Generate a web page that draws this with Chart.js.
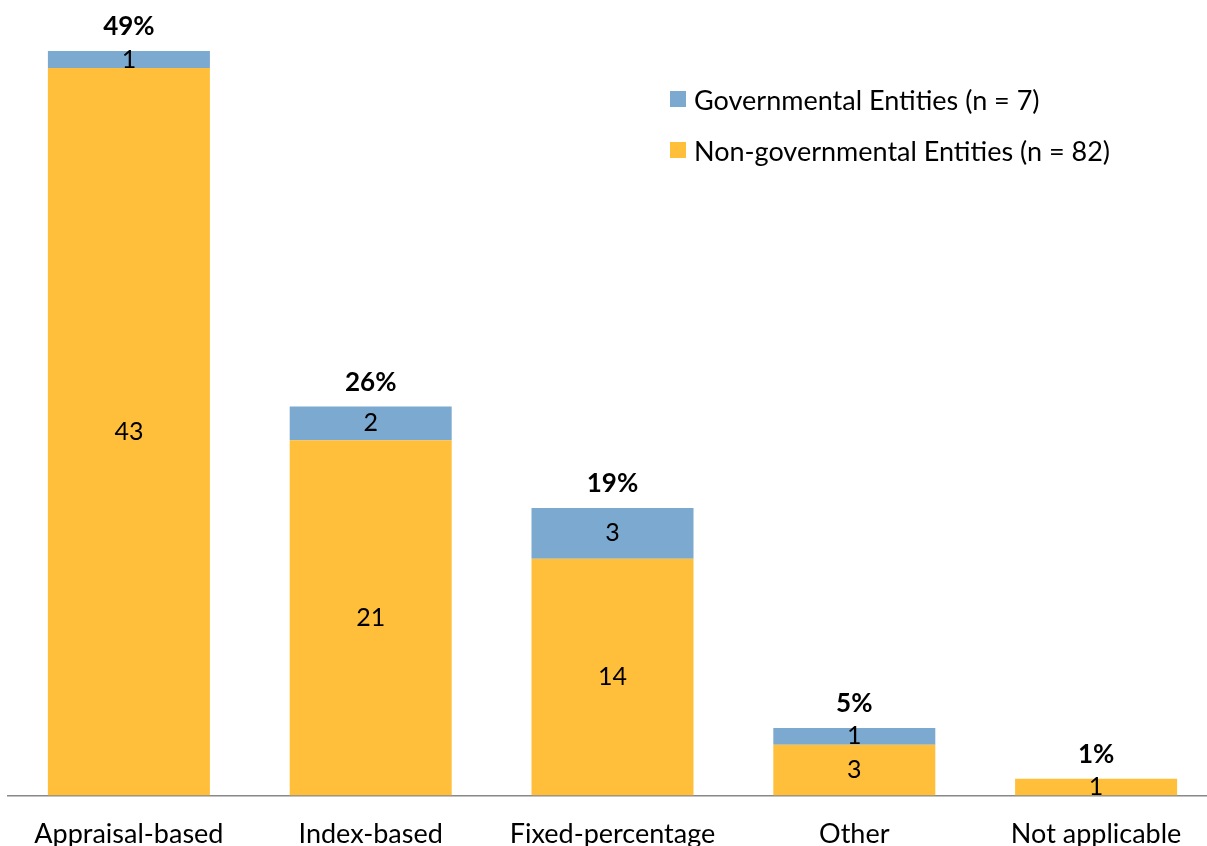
<!DOCTYPE html>
<html>
<head>
<meta charset="utf-8">
<script src="https://cdn.jsdelivr.net/npm/chart.js@4"></script>
<style>
  html, body { margin: 0; padding: 0; background: #fff; overflow: hidden; }
  #wrap { position: relative; width: 1217px; height: 846px; overflow: hidden; }
  #legend { position: absolute; left: 670px; top: 83px; font-family: Lato, "Open Sans", sans-serif; font-size: 27px; color: #000; }
  .item { display: flex; align-items: center; height: 32px; margin-bottom: 19px; }
  .box { width: 16px; height: 16px; margin-right: 8px; }
</style>
</head>
<body>
<div id="wrap">
  <canvas id="chart"></canvas>
  <div id="legend"></div>
</div>
<script>
// Данные диаграммы
const categories = ['Appraisal-based', 'Index-based', 'Fixed-percentage', 'Other', 'Not applicable'];
const nonGovValues = [43, 21, 14, 3, 1];
const govValues = [1, 2, 3, 1, 0];
const percentLabels = ['49%', '26%', '19%', '5%', '1%'];
const seriesNames = ['Non-governmental Entities (n = 82)', 'Governmental Entities (n = 7)'];

const GOLD = '#FFBF3A';
const BLUE = '#7BA9D0';
const FONT = 'Lato, "Open Sans", sans-serif';

// Подписи значений внутри сегментов и процентов над столбцами
const labelPlugin = {
  id: 'barLabels',
  afterDatasetsDraw(chart) {
    const ctx = chart.ctx;
    ctx.save();
    ctx.textAlign = 'center';
    ctx.textBaseline = 'middle';
    ctx.fillStyle = '#000';
    ctx.font = '25px ' + FONT;
    const tops = [];
    chart.data.datasets.forEach((ds, di) => {
      const meta = chart.getDatasetMeta(di);
      meta.data.forEach((bar, i) => {
        const v = ds.data[i];
        if (v > 0) {
          ctx.fillText(String(v), bar.x, (bar.y + bar.base) / 2);
          tops[i] = tops[i] === undefined ? bar.y : Math.min(tops[i], bar.y);
        }
      });
    });
    ctx.font = 'bold 26px ' + FONT;
    const meta0 = chart.getDatasetMeta(0);
    percentLabels.forEach((p, i) => {
      ctx.fillText(p, meta0.data[i].x, tops[i] - 24);
    });
    ctx.restore();
  }
};

const canvas = document.getElementById('chart');
canvas.width = 1217;
canvas.height = 872;

new Chart(canvas.getContext('2d'), {
  type: 'bar',
  data: {
    labels: categories,
    datasets: [
      { label: seriesNames[0], data: nonGovValues, backgroundColor: GOLD, borderWidth: 0 },
      { label: seriesNames[1], data: govValues, backgroundColor: BLUE, borderWidth: 0 }
    ]
  },
  options: {
    responsive: false,
    animation: false,
    layout: { padding: { top: 51, left: 8, right: 0, bottom: 0 } },
    plugins: { legend: { display: false }, tooltip: { enabled: false } },
    datasets: { bar: { categoryPercentage: 1, barPercentage: 0.67 } },
    scales: {
      x: {
        stacked: true,
        grid: { display: false, drawTicks: false },
        border: { display: true, color: '#888', width: 1.5 },
        ticks: { color: '#000', font: { family: FONT, size: 27 }, padding: 22, maxRotation: 0 }
      },
      y: {
        stacked: true,
        display: false,
        min: 0,
        max: 44
      }
    }
  },
  plugins: [labelPlugin]
});

// Легенда
const legend = document.getElementById('legend');
[[BLUE, seriesNames[1]], [GOLD, seriesNames[0]]].forEach(([c, t]) => {
  const item = document.createElement('div');
  item.className = 'item';
  item.innerHTML = '<span class="box" style="background:' + c + '"></span><span>' + t + '</span>';
  legend.appendChild(item);
});
</script>
</body>
</html>
